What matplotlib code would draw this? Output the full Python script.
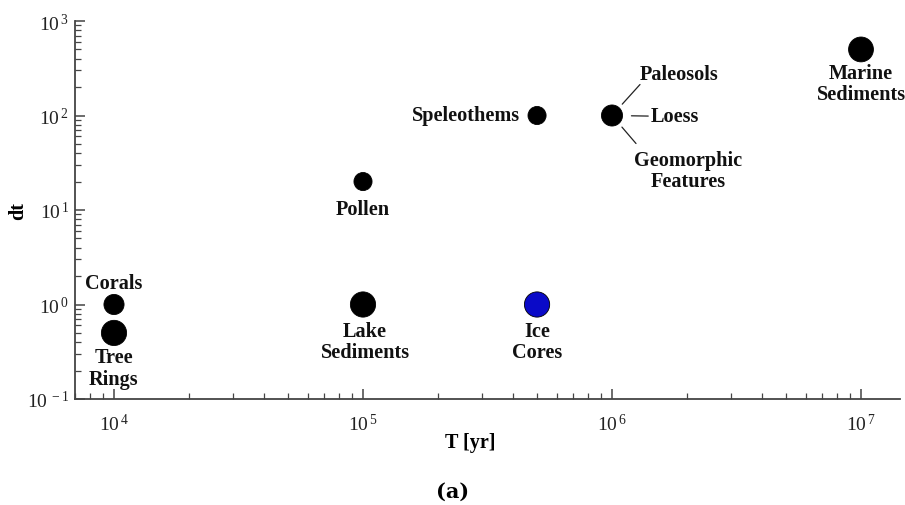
import math
import matplotlib
matplotlib.use("Agg")
import matplotlib.pyplot as plt
from matplotlib.ticker import LogLocator, FuncFormatter, NullFormatter

plt.rcParams["font.family"] = ["Liberation Serif", "DejaVu Serif"]
plt.rcParams["mathtext.fontset"] = "custom"
plt.rcParams["mathtext.rm"] = "Liberation Serif"
plt.rcParams["mathtext.bf"] = "Liberation Serif:bold"

# Archive records: time span T (yr) and resolution dt (yr)
names = ["Corals", "Tree\nRings", "Pollen", "Lake\nSediments", "Speleothems",
         "Ice\nCores", "Loess", "Marine\nSediments"]
T_span = [1e4, 1e4, 1e5, 1e5, 5e5, 5e5, 1e6, 1e7]
dt_res = [1, 0.5, 20, 1, 100, 1, 100, 500]
sizes = [210, 330, 170, 330, 170, 330, 230, 320]
colors = ["black", "black", "black", "black", "black", "#0a0ac8", "black", "black"]

# label placement in pixel offsets from each point, with alignment
label_offsets = [(0, 21), (0, -35), (0, -27), (2, -37), (-17, 0), (0, -37), (None, None), (0, -34)]
label_ha = ["center", "center", "center", "center", "right", "center", None, "center"]

fig = plt.figure(figsize=(9.05, 5.06), dpi=100)
ax = fig.add_axes([75 / 905, 1 - 400 / 506, 825 / 905, 378 / 506])

ax.set_xscale("log")
ax.set_yscale("log")
ax.set_xlim(10 ** (4 - 39 / 249), 10 ** (7 + 39 / 249))
ax.set_ylim(0.1, 1000)

ax.scatter(T_span, dt_res, s=sizes, c=colors, edgecolors="black", linewidths=0.6, zorder=3)

bold = dict(fontsize=14.6, fontweight="bold", color="#111111")
for name, x, y, off, ha in zip(names, T_span, dt_res, label_offsets, label_ha):
    if off[0] is None:
        continue
    ax.annotate(name, (x, y), xytext=off, textcoords="offset pixels",
                ha=ha, va="center", linespacing=1.1, **bold)

# grouped labels sharing the 10^6 point, joined by thin leader lines
line = dict(arrowstyle="-", color="#222222", lw=0.9, shrinkA=0, shrinkB=0)
ax.annotate("Paleosols", (1e6, 100), xytext=(28, 41), textcoords="offset pixels",
            ha="left", va="center", **bold)
ax.annotate("", (1e6, 100), xytext=(28, 31), textcoords="offset pixels",
            arrowprops=dict(line, shrinkB=11))
ax.annotate("Loess", (1e6, 100), xytext=(39, -1), textcoords="offset pixels",
            ha="left", va="center",
            arrowprops=dict(line, shrinkB=14), **bold)
ax.annotate("", (1e6, 100), xytext=(24, -28), textcoords="offset pixels",
            arrowprops=dict(line, shrinkB=11))
ax.annotate("Geomorphic\nFeatures", (1e6, 100), xytext=(76, -55), textcoords="offset pixels",
            ha="center", va="center", linespacing=1.1, **bold)

# axes styling: only left and bottom spines, ticks pointing inward
for side in ["top", "right"]:
    ax.spines[side].set_visible(False)
for side in ["left", "bottom"]:
    ax.spines[side].set_color("#444444")
    ax.spines[side].set_linewidth(1.3)

ax.xaxis.set_major_locator(LogLocator(base=10, numticks=10))
ax.xaxis.set_minor_locator(LogLocator(base=10, subs=range(2, 10), numticks=20))
ax.yaxis.set_major_locator(LogLocator(base=10, numticks=10))
ax.yaxis.set_minor_locator(LogLocator(base=10, subs=range(2, 10), numticks=20))

fmt = FuncFormatter(lambda v, p: r"$\mathregular{10^{\,%d}}$" % round(math.log10(v)))
ax.xaxis.set_major_formatter(fmt)
ax.yaxis.set_major_formatter(fmt)
ax.xaxis.set_minor_formatter(NullFormatter())
ax.yaxis.set_minor_formatter(NullFormatter())

ax.tick_params(which="both", direction="in", color="#444444", labelsize=14, labelcolor="#222222")
ax.tick_params(which="major", length=7, width=1.1)
ax.tick_params(which="minor", length=4, width=0.9)
ax.tick_params(axis="x", pad=10)
ax.tick_params(axis="y", pad=4)

ax.set_xlabel("T [yr]", fontsize=14.5, fontweight="bold")
ax.set_ylabel("dt", fontsize=14.5, fontweight="bold")
ax.xaxis.set_label_coords(0.479, -0.086)
ax.yaxis.set_label_coords(-0.057, 0.5)

fig.text(453 / 905, 1 - 492 / 506, "(a)", ha="center", va="center",
         fontsize=15, fontweight="bold", family="DejaVu Serif")

fig.savefig("out.png", dpi=100)
